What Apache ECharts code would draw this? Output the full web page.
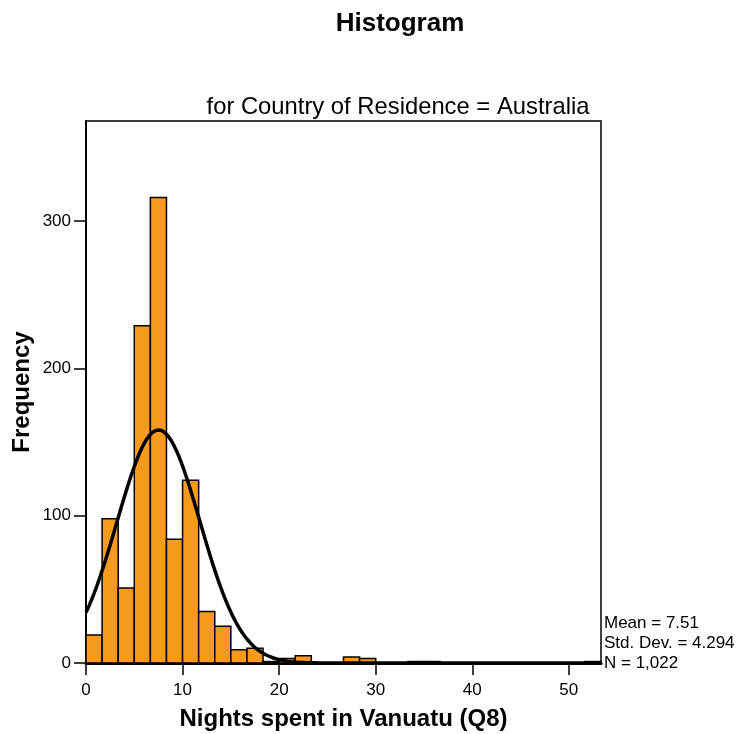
<!DOCTYPE html>
<html>
<head>
<meta charset="utf-8">
<script src="https://cdn.jsdelivr.net/npm/echarts@6/dist/echarts.min.js"></script>
<style>html,body{margin:0;padding:0;background:#fff}#c{width:739px;height:734px}</style>
</head>
<body>
<div id="c"></div>
<script>
// Histogram bins (width 5/3 nights) starting at 0
var binWidth = 5 / 3;
var counts = [19, 98, 51, 229, 316, 84, 124, 35, 25, 9, 10, 1, 3, 5, 0, 0, 4, 3, 0, 0, 1, 1, 0, 0, 0, 0, 0, 0, 0, 0, 0, 1];
var xTicks = [0, 10, 20, 30, 40, 50];
var yTicks = [0, 100, 200, 300];
var statMean = 7.51, statSD = 4.294, statN = 1022;
var statLines = ['Mean = 7.51', 'Std. Dev. = 4.294', 'N = 1,022'];

var xMax = counts.length * binWidth;
var barData = counts.map(function (c, i) { return [i * binWidth, (i + 1) * binWidth, c]; });

// fitted normal curve from stated mean / sd / N
var curve = [];
for (var k = 0; k <= 320; k++) {
  var x = xMax * k / 320;
  var z = (x - statMean) / statSD;
  curve.push([x, statN * binWidth * Math.exp(-0.5 * z * z) / (statSD * Math.sqrt(2 * Math.PI))]);
}

var FONT = 'Liberation Sans, Arial, sans-serif';
var chart = echarts.init(document.getElementById('c'));
chart.setOption({
  animation: false,
  backgroundColor: '#fff',
  title: [
    { text: 'Histogram', left: 395, top: 6, textAlign: 'center',
      textStyle: { fontFamily: FONT, fontSize: 26, fontWeight: 'bold', color: '#000' } },
    { text: 'for Country of Residence = Australia', left: 393, top: 90, textAlign: 'center',
      textStyle: { fontFamily: FONT, fontSize: 23.8, fontWeight: 'normal', color: '#000' } }
  ],
  graphic: [{
    type: 'text', left: 604, top: 613,
    style: { text: statLines.join('\n'), font: '17px ' + FONT, fill: '#000', lineHeight: 20 }
  }],
  grid: { left: 86, right: 138, top: 121, bottom: 71, containLabel: false, outerBoundsMode: 'none',
    show: true, borderColor: '#000', borderWidth: 1.5, backgroundColor: 'transparent' },
  xAxis: {
    type: 'value', min: 0, max: xMax, interval: 10,
    name: 'Nights spent in Vanuatu (Q8)', nameLocation: 'middle', nameGap: 44, nameMoveOverlap: false,
    nameTextStyle: { fontFamily: FONT, fontSize: 24, fontWeight: 'bold', color: '#000' },
    axisLine: { show: true, onZero: false, lineStyle: { color: '#000', width: 3 } },
    axisTick: { show: true, length: 12, lineStyle: { color: '#000', width: 1.5 } },
    axisLabel: { fontFamily: FONT, fontSize: 17, color: '#000', margin: 19, showMaxLabel: false,
      formatter: function (v) { return xTicks.indexOf(v) >= 0 ? String(v) : ''; } },
    splitLine: { show: false }
  },
  yAxis: {
    type: 'value', min: 0, max: 368, interval: 100,
    name: 'Frequency', nameLocation: 'middle', nameGap: 52, nameMoveOverlap: false,
    nameTextStyle: { fontFamily: FONT, fontSize: 24, fontWeight: 'bold', color: '#000' },
    axisLine: { show: true, lineStyle: { color: '#000', width: 2 } },
    axisTick: { show: true, length: 12, lineStyle: { color: '#000', width: 1.5 } },
    axisLabel: { fontFamily: FONT, fontSize: 17, color: '#000', margin: 15, showMaxLabel: false,
      formatter: function (v) { return yTicks.indexOf(v) >= 0 ? String(v) : ''; } },
    splitLine: { show: false }
  },
  series: [
    {
      type: 'custom',
      data: barData,
      renderItem: function (params, api) {
        var p0 = api.coord([api.value(0), api.value(2)]);
        var p1 = api.coord([api.value(1), 0]);
        return {
          type: 'rect',
          shape: { x: p0[0], y: p0[1], width: p1[0] - p0[0], height: p1[1] - p0[1] },
          style: { fill: '#F79A1E', stroke: '#000', lineWidth: 1.5 }
        };
      },
      encode: { x: [0, 1], y: 2 },
      z: 2
    },
    {
      type: 'line', data: curve, showSymbol: false, smooth: false,
      lineStyle: { color: '#000', width: 3.5 }, z: 3
    }
  ]
});
</script>
</body>
</html>
